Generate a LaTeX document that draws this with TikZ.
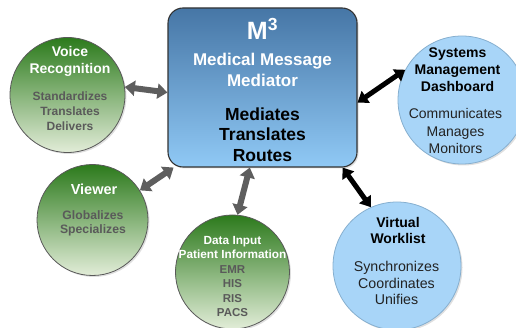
\documentclass[tikz,border=0pt]{standalone}
\usepackage{fontspec}
\setmainfont{Liberation Sans}
\usetikzlibrary{arrows.meta,shadows}
\definecolor{boxtop}{HTML}{4676A6}
\definecolor{boxbot}{HTML}{90C9F5}
\definecolor{gtop}{HTML}{2C7A1C}
\definecolor{gbot}{HTML}{E2EDD8}
\definecolor{lblue}{HTML}{A8D5F8}
\definecolor{lblueedge}{HTML}{86AFCF}
\definecolor{graytxt}{HTML}{5A5A5A}
\definecolor{grayarrow}{HTML}{5E5E5E}
\definecolor{darktxt}{HTML}{222222}
\tikzset{
  shd/.style={drop shadow={opacity=0.25,shadow xshift=1.5pt,shadow yshift=-1.5pt}},
  mainbox/.style={draw=black!80,line width=1.1pt,rounded corners=15pt,top color=boxtop,bottom color=boxbot,minimum width=189pt,minimum height=159pt,inner sep=0pt,shd},
  greenball/.style={circle,draw=black!65,line width=0.8pt,top color=gtop,bottom color=gbot,inner sep=0pt,shd},
  blueball/.style={circle,draw=lblueedge,line width=0.8pt,fill=lblue,inner sep=0pt,shd},
  txt/.style={align=center,inner sep=0pt},
  grayarr/.style={draw=grayarrow,line width=6pt,{Triangle[length=10pt,width=15pt]}-{Triangle[length=10pt,width=15pt]}},
  blackarr/.style={draw=black,line width=5pt,{Triangle[length=10pt,width=14pt]}-{Triangle[length=10pt,width=14pt]}}
}
\newcommand{\fsz}[2]{\fontsize{#1}{#2}\selectfont}
\begin{document}
\begin{tikzpicture}[x=1pt,y=-1pt]
\useasboundingbox (0,0) rectangle (516,328);
\begin{scope}
\clip (0,0) rectangle (516,328);
% shapes
\node[mainbox] (main) at (262.5,87.5) {};
\node[greenball,minimum size=115pt] (voice) at (67.5,95) {};
\node[greenball,minimum size=111pt] (viewer) at (92.5,220) {};
\node[greenball,minimum size=114pt] (data) at (232.5,272) {};
\node[blueball,minimum size=128pt] (sys) at (462,100) {};
\node[blueball,minimum size=128pt] (vw) at (397,266) {};
\end{scope}
% connectors
\draw[grayarr] (voice.8) -- (main.183);
\draw[grayarr] (viewer.32) -- (main.222);
\draw[grayarr] (data.85) -- (main.261);
\draw[blackarr] (main.-9) -- (sys.152);
\draw[blackarr] (main.-45) -- (vw.114);
% texts
\node[txt,text=white,font=\bfseries\fsz{25}{28}] (mt) at (262.5,29) {M\textsuperscript{3}};
\node[txt,text=white,font=\bfseries\fsz{17}{21}] (mname) at (262.5,69.5) {Medical Message\\Mediator};
\node[txt,text=black,font=\bfseries\fsz{17.5}{20.5}] (mverbs) at (262.5,134.5) {Mediates\\Translates\\Routes};
\node[txt,text=white,font=\bfseries\fsz{14}{17}] (vt) at (70,61.5) {Voice\\Recognition};
\node[txt,text=graytxt,font=\bfseries\fsz{12}{15}] (vv) at (70,111) {Standardizes\\Translates\\Delivers};
\node[txt,text=white,font=\bfseries\fsz{14.5}{17}] (wt) at (94,189) {Viewer};
\node[txt,text=graytxt,font=\bfseries\fsz{12.2}{14}] (wv) at (93,223) {Globalizes\\Specializes};
\node[txt,text=white,font=\bfseries\fsz{11.8}{14}] (dt) at (232.5,247) {Data Input\\Patient Information};
\node[txt,text=graytxt,font=\bfseries\fsz{11.5}{14.5}] (dv) at (232.5,291) {EMR\\HIS\\RIS\\PACS};
\node[txt,text=black,font=\bfseries\fsz{14}{17}] (st) at (457.5,70) {Systems\\Management\\Dashboard};
\node[txt,text=darktxt,font=\fsz{14}{17.5}] (sv) at (455.5,131) {Communicates\\Manages\\Monitors};
\node[txt,text=black,font=\bfseries\fsz{14}{16}] (xt) at (398,230) {Virtual\\Worklist};
\node[txt,text=darktxt,font=\fsz{14.2}{16.5}] (xv) at (396.5,283) {Synchronizes\\Coordinates\\Unifies};
\end{tikzpicture}
\end{document}
